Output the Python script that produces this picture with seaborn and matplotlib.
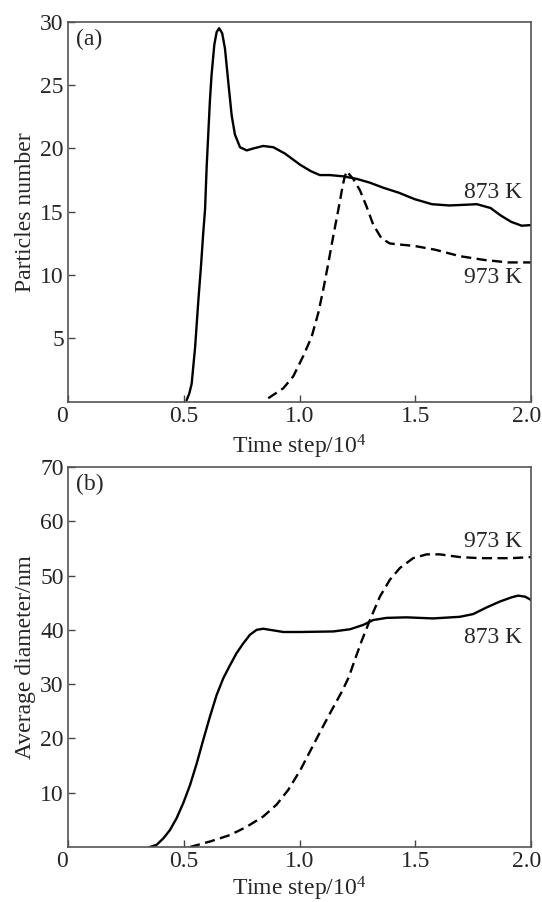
import numpy as np
import pandas as pd
import matplotlib
matplotlib.use("Agg")
import matplotlib.pyplot as plt
import matplotlib.transforms as mtransforms
import seaborn as sns

# (a) particles number
a873_x = [0.512, 0.524, 0.534, 0.549, 0.563, 0.574, 0.584, 0.592, 0.599, 0.606, 0.613, 0.620,
          0.632, 0.642, 0.653, 0.666, 0.678, 0.692, 0.707, 0.721, 0.743, 0.772, 0.800, 0.843,
          0.887, 0.937, 1.004, 1.050, 1.088, 1.131, 1.189, 1.247, 1.304, 1.362, 1.430, 1.497,
          1.572, 1.646, 1.710, 1.766, 1.825, 1.870, 1.915, 1.960, 2.0]
a873_y = [0.1, 0.66, 1.4, 4.3, 8.0, 10.6, 13.3, 15.2, 18.6, 21.2, 23.8, 25.8,
          28.2, 29.2, 29.5, 29.1, 27.9, 25.3, 22.6, 21.1, 20.1, 19.85, 20.0, 20.2,
          20.1, 19.6, 18.7, 18.2, 17.9, 17.9, 17.8, 17.6, 17.3, 16.9, 16.5, 16.0,
          15.6, 15.5, 15.55, 15.6, 15.3, 14.7, 14.2, 13.9, 13.95]

a973_x = [0.865, 0.930, 0.973, 1.016, 1.052, 1.081, 1.102, 1.124, 1.145, 1.167, 1.186, 1.193,
          1.203, 1.232, 1.261, 1.290, 1.318, 1.354, 1.390, 1.440, 1.497, 1.587, 1.691, 1.796,
          1.900, 2.0]
a973_y = [0.27, 1.06, 2.0, 3.6, 5.1, 7.0, 8.8, 10.9, 13.0, 15.1, 17.0, 17.6,
          18.2, 17.6, 16.7, 15.4, 14.0, 12.9, 12.5, 12.4, 12.3, 12.0, 11.5, 11.2,
          11.0, 11.0]

# (b) average diameter
b873_x = [0.354, 0.383, 0.412, 0.440, 0.469, 0.498, 0.527, 0.556, 0.584, 0.613, 0.642, 0.671,
          0.700, 0.728, 0.757, 0.786, 0.815, 0.843, 0.887, 0.930, 1.002, 1.146, 1.218, 1.275,
          1.318, 1.376, 1.462, 1.577, 1.693, 1.750, 1.807, 1.865, 1.917, 1.945, 1.975, 2.0]
b873_y = [0.0, 0.4, 1.6, 3.1, 5.3, 8.1, 11.4, 15.4, 19.7, 24.0, 28.0, 31.1,
          33.5, 35.7, 37.5, 39.1, 40.0, 40.2, 39.9, 39.6, 39.6, 39.7, 40.1, 40.9,
          41.8, 42.2, 42.3, 42.1, 42.4, 42.9, 44.1, 45.2, 46.0, 46.3, 46.1, 45.5]

b973_x = [0.527, 0.613, 0.700, 0.771, 0.843, 0.901, 0.951, 1.004, 1.049, 1.094, 1.139, 1.184,
          1.213, 1.240, 1.268, 1.304, 1.347, 1.390, 1.434, 1.491, 1.549, 1.606, 1.693, 1.779,
          1.917, 2.0]
b973_y = [0.0, 1.0, 2.2, 3.7, 5.6, 7.8, 10.5, 14.2, 17.9, 21.6, 25.2, 28.7,
          31.3, 34.6, 37.9, 41.8, 46.1, 49.2, 51.4, 53.2, 53.9, 53.9, 53.4, 53.2,
          53.2, 53.4]

x_ticks = [0, 0.5, 1.0, 1.5, 2.0]
x_labels = ["0", "0.5", "1.0", "1.5", "2.0"]

sns.set_style("ticks")
plt.rcParams["font.family"] = ["Liberation Serif", "DejaVu Serif"]
plt.rcParams["mathtext.fontset"] = "custom"
plt.rcParams["mathtext.rm"] = "Liberation Serif"

FS = 17

fig = plt.figure(figsize=(5.42, 9.02), dpi=100)
ax1 = fig.add_axes([0.1255, 0.5547, 0.8542, 0.4210])
ax2 = fig.add_axes([0.1255, 0.0610, 0.8542, 0.4213])


def draw(ax, x1, y1, x2, y2):
    d1 = pd.DataFrame({"x": x1, "y": y1})
    d2 = pd.DataFrame({"x": x2, "y": y2})
    sns.lineplot(data=d1, x="x", y="y", ax=ax, color="black", lw=1.7, sort=False)
    l = sns.lineplot(data=d2, x="x", y="y", ax=ax, color="black", lw=1.7, sort=False)
    l.lines[-1].set_dashes((4.3, 2.3))
    for ln in ax.lines:
        ln.set_solid_joinstyle("round")
        ln.set_dash_joinstyle("round")


draw(ax1, a873_x, a873_y, a973_x, a973_y)
draw(ax2, b873_x, b873_y, b973_x, b973_y)

for ax, ymax, step, ylab, tag, xpad in [(ax1, 30, 5, "Particles number", "(a)", 4),
                                        (ax2, 70, 10, "Average diameter/nm", "(b)", 2)]:
    ax.set_xlim(0, 2.0)
    ax.set_ylim(0, ymax)
    ax.set_xticks(x_ticks)
    ax.set_xticklabels(x_labels)
    yt = list(range(step, ymax + 1, step))
    ax.set_yticks(yt)
    ax.set_yticklabels([str(v) for v in yt])
    ax.tick_params(direction="in", length=5, width=1, labelsize=FS, pad=3, color="#444444")
    labs = ax.get_xticklabels()
    labs[0].set_ha("right")
    # last label sits against the right edge, as in the reference
    labs[-1].set_ha("right")
    labs[-1].set_transform(labs[-1].get_transform() +
                           mtransforms.ScaledTranslation(0.105, 0, fig.dpi_scale_trans))
    for s in ax.spines.values():
        s.set_color("#555555")
        s.set_linewidth(1.2)
    ax.set_xlabel("Time step/$\\mathregular{10^4}$", fontsize=FS, labelpad=xpad)
    ax.set_ylabel(ylab, fontsize=FS, labelpad=3)
    ax.text(0.018, 0.955, tag, transform=ax.transAxes, fontsize=FS, va="center")

ax1.text(1.96, 16.5, "873 K", fontsize=FS, ha="right", va="center")
ax1.text(1.96, 9.8, "973 K", fontsize=FS, ha="right", va="center")
ax2.text(1.96, 56.2, "973 K", fontsize=FS, ha="right", va="center")
ax2.text(1.96, 38.5, "873 K", fontsize=FS, ha="right", va="center")

fig.savefig("out.png", dpi=100)
